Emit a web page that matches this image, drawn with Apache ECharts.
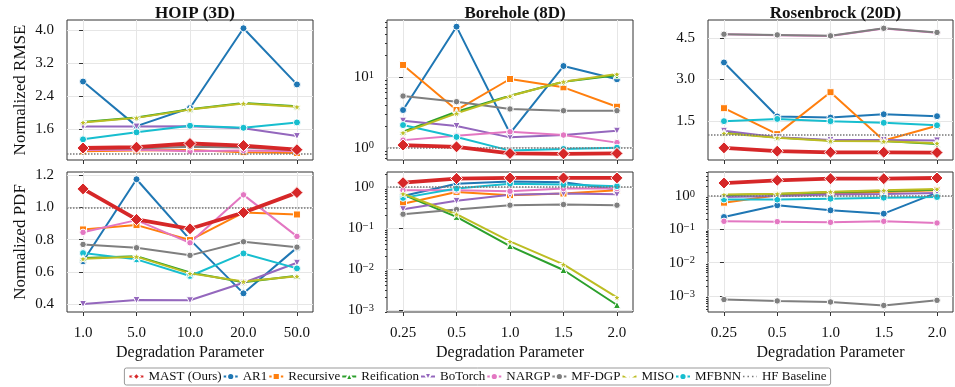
<!DOCTYPE html>
<html>
<head>
<meta charset="utf-8">
<script src="https://cdn.jsdelivr.net/npm/echarts@6/dist/echarts.min.js"></script>
<style>
  html, body { margin: 0; padding: 0; background: #fff; }
  #chart { width: 955px; height: 387px; }
</style>
</head>
<body>
<div id="chart"></div>
<script>
// Degradation levels per benchmark
const hoipLevels = ['1.0', '5.0', '10.0', '20.0', '50.0'];
const otherLevels = ['0.25', '0.5', '1.0', '1.5', '2.0'];

// Method order used for every value table below
const methodNames = ['MAST (Ours)', 'AR1', 'Recursive', 'Reification', 'BoTorch',
                     'NARGP', 'MF-DGP', 'MISO', 'MFBNN'];

// High-fidelity baseline (normalized to 1)
const hfBaseline = 1.0;

// HOIP (3D) normalized RMSE
const hoipRmse = [
  [1.14, 1.16, 1.25, 1.20, 1.10],
  [2.75, 1.67, 2.11, 4.04, 2.68],
  [1.06, 1.08, 1.09, 1.04, 1.02],
  [1.77, 1.88, 2.08, 2.23, 2.15],
  [1.66, 1.66, 1.67, 1.62, 1.43],
  [1.09, 1.10, 1.06, 1.08, 1.06],
  [1.12, 1.13, 1.17, 1.15, 1.09],
  [1.76, 1.87, 2.07, 2.22, 2.14],
  [1.35, 1.52, 1.68, 1.63, 1.76]
];
// HOIP (3D) normalized PDF
const hoipPdf = [
  [1.115, 0.925, 0.867, 0.968, 1.092],
  [0.665, 1.175, 0.80, 0.466, 0.75],
  [0.863, 0.89, 0.797, 0.968, 0.956],
  [0.685, 0.697, 0.595, 0.535, 0.575],
  [0.40, 0.425, 0.423, 0.532, 0.656],
  [0.845, 0.921, 0.78, 1.078, 0.82],
  [0.77, 0.749, 0.702, 0.787, 0.753],
  [0.681, 0.694, 0.59, 0.539, 0.572],
  [0.716, 0.677, 0.574, 0.714, 0.621]
];
// Borehole (8D) normalized RMSE
const boreholeRmse = [
  [1.09, 1.03, 0.83, 0.82, 0.83],
  [3.41, 51.5, 1.6, 14.3, 9.27],
  [14.8, 3.41, 9.37, 7.14, 3.8],
  [1.69, 3.23, 5.44, 8.59, 10.6],
  [2.41, 2.03, 1.40, 1.51, 1.74],
  [1.28, 1.48, 1.68, 1.51, 1.18],
  [5.38, 4.48, 3.53, 3.34, 3.34],
  [1.63, 3.06, 5.38, 8.59, 11.0],
  [2.09, 1.42, 0.91, 0.96, 1.0]
];
// Borehole (8D) normalized PDF
const boreholePdf = [
  [1.27, 1.6, 1.66, 1.66, 1.66],
  [0.6, 1.2, 1.35, 1.3, 0.87],
  [0.39, 0.755, 0.63, 0.69, 0.83],
  [0.65, 0.186, 0.036, 0.0094, 0.00132],
  [0.286, 0.457, 0.64, 0.69, 0.66],
  [0.83, 0.83, 0.785, 0.91, 0.91],
  [0.216, 0.281, 0.358, 0.372, 0.358],
  [0.68, 0.216, 0.0468, 0.0129, 0.00203],
  [0.54, 0.91, 1.2, 1.14, 1.04]
];
// Rosenbrock (20D) normalized RMSE
const rosenRmse = [
  [0.52, 0.40, 0.36, 0.36, 0.35],
  [3.62, 1.66, 1.62, 1.74, 1.67],
  [1.96, 1.02, 2.54, 0.79, 1.32],
  [1.08, 0.90, 0.79, 0.77, 0.66],
  [1.14, 0.91, 0.81, 0.81, 0.79],
  [4.64, 4.61, 4.58, 4.85, 4.70],
  [4.645, 4.62, 4.585, 4.86, 4.71],
  [1.05, 0.89, 0.77, 0.76, 0.69],
  [1.49, 1.57, 1.49, 1.43, 1.34]
];
// Rosenbrock (20D) normalized PDF
const rosenPdf = [
  [2.45, 2.95, 3.31, 3.31, 3.47],
  [0.234, 0.525, 0.372, 0.295, 1.26],
  [0.63, 1.05, 1.17, 1.32, 1.48],
  [1.05, 1.15, 1.29, 1.41, 1.55],
  [0.93, 1.0, 1.1, 1.15, 1.23],
  [0.174, 0.17, 0.162, 0.174, 0.155],
  [7.8e-4, 7.1e-4, 6.6e-4, 5.2e-4, 7.4e-4],
  [1.1, 1.17, 1.35, 1.48, 1.62],
  [0.79, 0.78, 0.83, 0.89, 0.93]
];

// Tick values
const hoipRmseTicks = [1.6, 2.4, 3.2, 4.0];
const hoipPdfTicks = [0.4, 0.6, 0.8, 1.0, 1.2];
const rosenRmseTicks = [1.5, 3.0, 4.5];
const boreholeRmseTicks = [1, 10];
const pdfLogTicks = [0.001, 0.01, 0.1, 1];

const FONT = '"Liberation Serif", "Times New Roman", serif';
const STAR = 'path://M50,0 L61,35 L98,35 L68,57 L79,91 L50,70 L21,91 L32,57 L2,35 L39,35 Z';

const methodStyle = [
  { color: '#d62728', symbol: 'diamond', size: 12, width: 3.8, z: 10 },
  { color: '#1f77b4', symbol: 'circle', size: 7, width: 2, z: 3 },
  { color: '#ff7f0e', symbol: 'rect', size: 7, width: 2, z: 3 },
  { color: '#2ca02c', symbol: 'triangle', size: 7, width: 2, z: 3 },
  { color: '#9467bd', symbol: 'triangle', size: 7, width: 2, z: 3, rotate: 180 },
  { color: '#e377c2', symbol: 'circle', size: 6.5, width: 2, z: 3 },
  { color: '#7f7f7f', symbol: 'circle', size: 6.5, width: 2, z: 3 },
  { color: '#bcbd22', symbol: STAR, size: 8, width: 2, z: 4 },
  { color: '#17becf', symbol: 'circle', size: 7, width: 2, z: 3 }
];

// Panel layout (pixels)
const colLeft = [67, 387, 708];
const colWidth = [246, 246, 245];
const rowTop = [20, 172];
const rowHeight = 140;

const panels = [
  { row: 0, col: 0, values: hoipRmse, type: 'value', min: 0.85, max: 4.24, ticks: hoipRmseTicks, levels: hoipLevels },
  { row: 0, col: 1, values: boreholeRmse, type: 'log', min: 0.67, max: 64, ticks: boreholeRmseTicks, levels: otherLevels },
  { row: 0, col: 2, values: rosenRmse, type: 'value', min: 0.08, max: 5.16, ticks: rosenRmseTicks, levels: otherLevels },
  { row: 1, col: 0, values: hoipPdf, type: 'value', min: 0.35, max: 1.22, ticks: hoipPdfTicks, levels: hoipLevels },
  { row: 1, col: 1, values: boreholePdf, type: 'log', min: 8.9e-4, max: 2.31, ticks: pdfLogTicks, levels: otherLevels },
  { row: 1, col: 2, values: rosenPdf, type: 'log', min: 3.3e-4, max: 5.25, ticks: pdfLogTicks, levels: otherLevels }
];

const titles = ['HOIP (3D)', 'Borehole (8D)', 'Rosenbrock (20D)'];
const rowNames = ['Normalized RMSE', 'Normalized PDF'];

const axisColor = '#333';
const gridLineColor = '#e6e6e6';
const baselineColor = '#777';

function logLabel(v) {
  const e = Math.round(Math.log10(v));
  const s = e < 0 ? '\u2212' + (-e) : String(e);
  return '{b|10}{s|' + s + '}';
}

function minorLogValues(min, max) {
  const out = [];
  for (let e = Math.floor(Math.log10(min)); e <= Math.ceil(Math.log10(max)); e++) {
    for (let k = 2; k <= 9; k++) {
      const v = k * Math.pow(10, e);
      if (v > min && v < max) out.push(v);
    }
  }
  return out;
}

const grids = [], xAxes = [], yAxes = [], series = [], titleComps = [];
const minorAxes = [];

panels.forEach((p, gi) => {
  grids.push({
    left: colLeft[p.col], top: rowTop[p.row], width: colWidth[p.col], height: rowHeight,
    show: true, borderColor: axisColor, borderWidth: 1, backgroundColor: '#fff'
  });
  const idx = [0, 1, 2, 3, 4];
  xAxes.push({
    type: 'value', gridIndex: gi, min: -0.3, max: 4.3,
    name: p.row === 1 ? 'Degradation Parameter' : '',
    nameLocation: 'middle', nameGap: 33,
    nameTextStyle: { fontFamily: FONT, fontSize: 16, color: '#111' },
    axisLine: { show: false },
    axisTick: { show: true, length: 4, lineStyle: { color: axisColor }, customValues: idx },
    axisLabel: {
      show: p.row === 1, customValues: idx, margin: 14,
      fontFamily: FONT, fontSize: 15, color: '#111',
      formatter: (v) => p.levels[Math.round(v)]
    },
    splitLine: { show: true, lineStyle: { color: gridLineColor, width: 1 } }
  });
  const y = {
    type: p.type, gridIndex: gi, min: p.min, max: p.max, position: 'left',
    name: p.col === 0 ? rowNames[p.row] : '',
    nameLocation: 'middle', nameGap: 38, nameRotate: 90,
    nameTextStyle: { fontFamily: FONT, fontSize: 17, color: '#111' },
    axisLine: { show: false },
    axisTick: { show: true, length: 4, lineStyle: { color: axisColor }, customValues: p.ticks },
    axisLabel: {
      customValues: p.ticks, margin: 13,
      fontFamily: FONT, fontSize: 15, color: '#111'
    },
    splitLine: { show: true, lineStyle: { color: gridLineColor, width: 1 } }
  };
  if (p.type === 'log') {
    y.logBase = 10;
    y.axisLabel.formatter = logLabel;
    y.axisLabel.rich = {
      b: { fontFamily: FONT, fontSize: 15, lineHeight: 15, color: '#111', padding: [4, 0, 4, 0] },
      s: { fontFamily: FONT, fontSize: 10.5, lineHeight: 11, color: '#111', verticalAlign: 'top' }
    };
    // Secondary axis carrying the minor log ticks (2..9 per decade)
    minorAxes.push({
      type: 'log', logBase: 10, gridIndex: gi, min: p.min, max: p.max, position: 'left',
      axisLine: { show: false }, axisLabel: { show: false }, splitLine: { show: false },
      axisTick: { show: true, length: 2, lineStyle: { color: axisColor }, customValues: minorLogValues(p.min, p.max) }
    });
  } else {
    y.axisLabel.formatter = (v) => v.toFixed(1);
  }
  yAxes.push(y);

  p.values.forEach((vals, mi) => {
    const st = methodStyle[mi];
    series.push({
      name: methodNames[mi], type: 'line', xAxisIndex: gi, yAxisIndex: gi,
      data: vals.map((v, j) => [j, v]),
      symbol: st.symbol, symbolSize: st.size, symbolRotate: st.rotate || 0,
      showAllSymbol: true,
      lineStyle: { color: st.color, width: st.width },
      itemStyle: { color: st.color, borderColor: '#fff', borderWidth: 1 },
      z: st.z, emphasis: { disabled: true }
    });
  });
  series.push({
    name: 'HF Baseline', type: 'line', xAxisIndex: gi, yAxisIndex: gi,
    data: [], symbol: 'none',
    lineStyle: { color: baselineColor, width: 1.5, type: 'dotted' },
    itemStyle: { color: baselineColor },
    z: 2,
    markLine: {
      silent: true, symbol: 'none', label: { show: false },
      lineStyle: { color: baselineColor, width: 1.5, type: 'dotted' },
      data: [{ yAxis: hfBaseline }]
    }
  });
});

minorAxes.forEach(a => yAxes.push(a));

titles.forEach((t, c) => {
  titleComps.push({
    text: t, left: colLeft[c] + colWidth[c] / 2, top: 0, textAlign: 'center',
    textStyle: { fontFamily: FONT, fontSize: 17, fontWeight: 'bold', color: '#111' }
  });
});

const legendData = methodNames.map(n => ({ name: n }));
legendData.push({
  name: 'HF Baseline',
  itemStyle: { opacity: 0 },
  lineStyle: { color: baselineColor, width: 1.5, type: [1.5, 3] }
});

const chart = echarts.init(document.getElementById('chart'), null, { renderer: 'canvas' });
chart.setOption({
  animation: false,
  backgroundColor: '#fff',
  title: titleComps,
  grid: grids,
  xAxis: xAxes,
  yAxis: yAxes,
  legend: {
    data: legendData,
    bottom: 2, left: 'center',
    itemWidth: 14, itemHeight: 9, itemGap: 1,
    padding: [2, 4],
    borderColor: '#999', borderWidth: 1, borderRadius: 2,
    textStyle: { fontFamily: FONT, fontSize: 13, color: '#111' }
  },
  series: series
});
</script>
</body>
</html>
